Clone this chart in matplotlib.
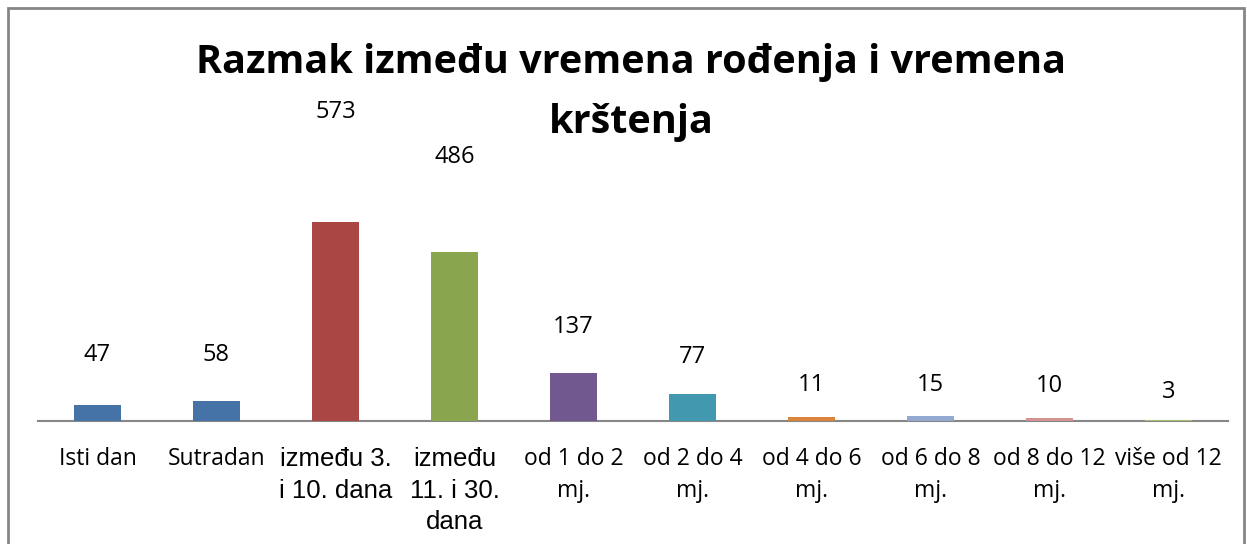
import numpy as np
import matplotlib.pyplot as plt
from matplotlib.patches import Rectangle

categories = ["Isti dan", "Sutradan", "između 3.\ni 10. dana", "između\n11. i 30.\ndana",
              "od 1 do 2\nmj.", "od 2 do 4\nmj.", "od 4 do 6\nmj.", "od 6 do 8\nmj.",
              "od 8 do 12\nmj.", "više od 12\nmj."]
values = [47, 58, 573, 486, 137, 77, 11, 15, 10, 3]
title_lines = ["Razmak između vremena rođenja i vremena", "krštenja"]

colors = ["#4572A7", "#4572A7", "#AA4643", "#89A54E", "#71588F",
          "#4198AF", "#DB843D", "#93A9CF", "#D19392", "#A5C26E"]
# label distance above bar top (pixels), Excel put them oddly
label_gap = [50, 46, 110, 95, 46, 37, 32, 31, 32, 28]
arial_labels = [2, 3]

W, H = 1247, 544
fig = plt.figure(figsize=(W / 100, H / 100), dpi=100)
fig.patches.append(Rectangle((8 / W, -0.01), (1244 - 8) / W, (H - 8) / H + 0.01,
                             transform=fig.transFigure, fill=False,
                             edgecolor="#868686", linewidth=2))

ax = fig.add_axes([38 / W, (H - 421) / H, 1190 / W, (421 - 80) / H])
x = np.arange(len(values))
ax.bar(x, values, width=0.4, color=colors, zorder=3)
ax.set_xlim(-0.5, len(values) - 0.5)
ax.set_ylim(0, 983)

for i, v in enumerate(values):
    ax.annotate(str(v), (x[i], v), xytext=(0, label_gap[i] * 0.72), textcoords="offset points",
                ha="center", va="center", fontsize=17, family="Open Sans")

for s in ["top", "right", "left"]:
    ax.spines[s].set_visible(False)
ax.spines["bottom"].set_color("#868686")
ax.spines["bottom"].set_linewidth(1.5)
ax.spines["bottom"].set_zorder(1)
ax.set_yticks([])
ax.set_xticks(x)
ax.set_xticklabels(categories, fontsize=16.5, family="Open Sans", linespacing=1.45, va="top")
ax.tick_params(axis="x", length=0, pad=19)
for i in arial_labels:
    ax.get_xticklabels()[i].set_family("Liberation Sans")
    ax.get_xticklabels()[i].set_fontsize(18.5)
    ax.get_xticklabels()[i].set_linespacing(1.38)

for k, line in enumerate(title_lines):
    fig.text(631 / W, (H - 62 - 60 * k) / H, line, ha="center", va="center",
             fontsize=28.5, fontweight="bold", family="Open Sans")

fig.savefig("out.png", dpi=100)
